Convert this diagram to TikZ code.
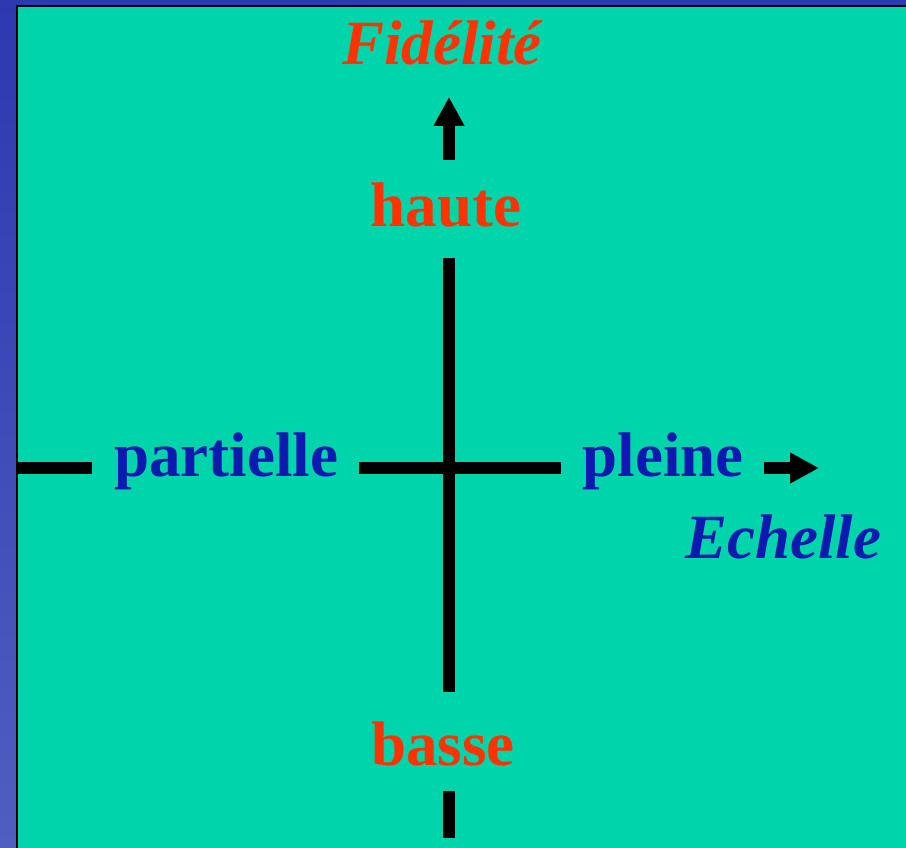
\documentclass[tikz,border=0pt]{standalone}
\usepackage{fontspec}
\setmainfont{Liberation Serif}
\usetikzlibrary{arrows.meta}
\definecolor{teal1}{RGB}{0,212,170}
\definecolor{redf}{RGB}{255,51,0}
\definecolor{bluef}{RGB}{13,26,175}
\definecolor{stripTop}{RGB}{46,56,176}
\definecolor{stripBot}{RGB}{80,94,192}
\tikzset{
  lbl/.style={anchor=base,inner sep=0pt,font=\fontsize{63}{70}\selectfont\bfseries},
  redlbl/.style={lbl,text=redf},
  bluelbl/.style={lbl,text=bluef},
  ital/.style={font=\fontsize{63}{70}\selectfont\bfseries\itshape},
  axis/.style={line width=12pt,black},
  axisarrow/.style={axis,-{Triangle[width=29pt,length=29pt]}}
}
\begin{document}
\begin{tikzpicture}[x=1pt,y=-1pt]
\useasboundingbox (0,0) rectangle (906,848);
% background
\shade[top color=stripTop,bottom color=stripBot] (0,0) rectangle (906,848);
\fill[stripTop] (0,0) rectangle (906,6);
\fill[black] (16,5) rectangle (906,848);
\fill[teal1] (18,7) rectangle (906,848);
% labels
\node[redlbl,ital] (fid) at (442,65) {Fidélité};
\node[redlbl] (haute) at (446,226) {haute};
\node[redlbl] (basse) at (443,765) {basse};
\node[bluelbl] (part) at (226,476) {partielle};
\node[bluelbl] (pleine) at (663,476) {pleine};
\node[bluelbl,ital] (ech) at (783,558) {Echelle};
% axis coordinates
\coordinate (vtopA) at (449,160);
\coordinate (vtopTip) at (449,97);
\coordinate (vmidA) at (449,258);
\coordinate (vmidB) at (449,692);
\coordinate (vbotA) at (449,791);
\coordinate (vbotB) at (449,838);
\coordinate (hleftA) at (18,468);
\coordinate (hleftB) at (92,468);
\coordinate (hmidA) at (359,468);
\coordinate (hmidB) at (561,468);
\coordinate (hrightA) at (764,468);
\coordinate (hrightTip) at (819,468);
% axes
\draw[axisarrow] (vtopA) -- (vtopTip);
\draw[axis] (vmidA) -- (vmidB);
\draw[axis] (vbotA) -- (vbotB);
\draw[axis] (hleftA) -- (hleftB);
\draw[axis] (hmidA) -- (hmidB);
\draw[axisarrow] (hrightA) -- (hrightTip);
\end{tikzpicture}
\end{document}
